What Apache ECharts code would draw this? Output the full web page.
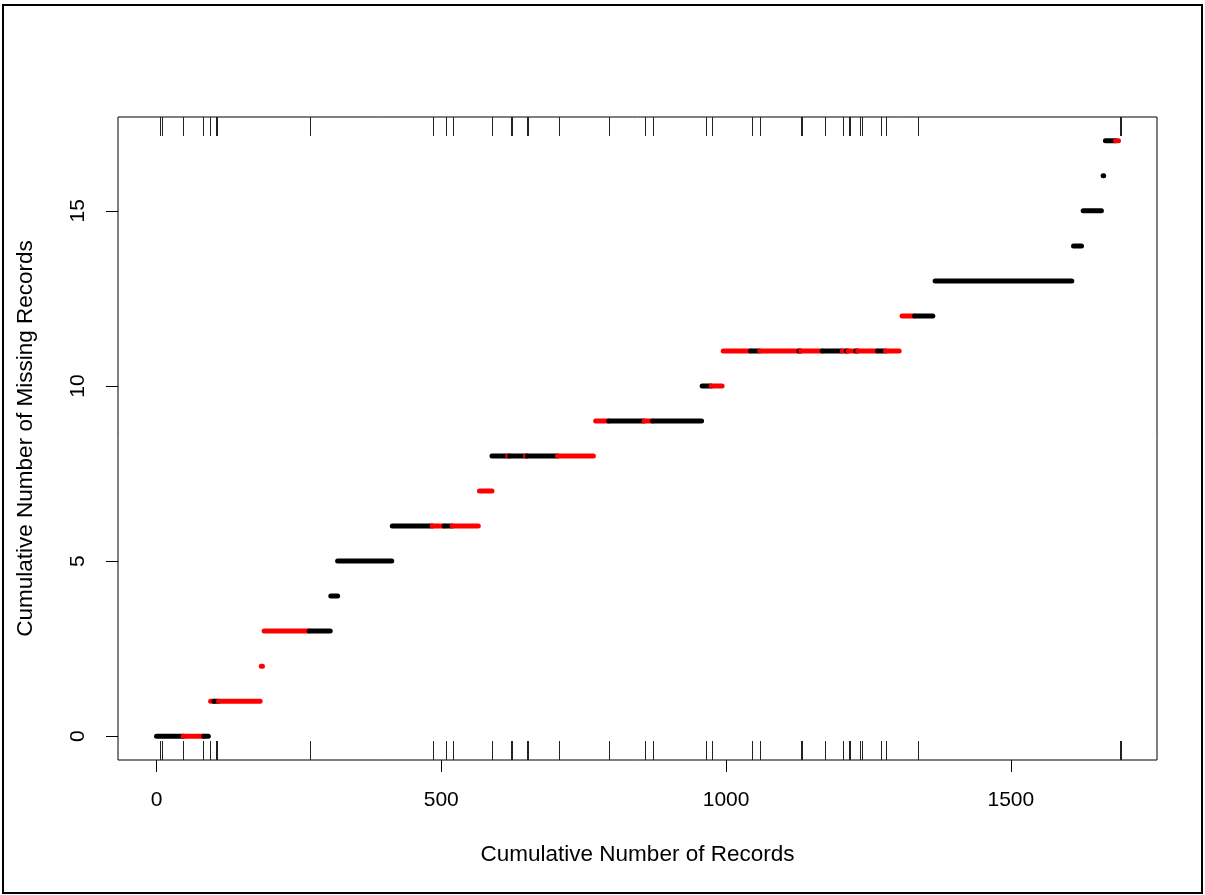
<!DOCTYPE html>
<html>
<head>
<meta charset="utf-8">
<script src="https://cdn.jsdelivr.net/npm/echarts@6/dist/echarts.min.js"></script>
<style>
  html, body { margin: 0; padding: 0; background: #fff; }
  #chart { width: 1205px; height: 895px; }
</style>
</head>
<body>
<div id="chart"></div>
<script>
// runs of consecutive records: [firstRecord, lastRecord, cumulativeMissing, flagged (0 = no, 1 = yes)]
const runs = [
  [0, 47, 0, 0], [47, 83, 0, 1], [83, 91, 0, 0],
  [95, 101, 1, 1], [101, 109, 1, 0], [109, 182, 1, 1],
  [184, 186, 2, 1],
  [189, 268, 3, 1], [268, 305, 3, 0],
  [306, 318, 4, 0],
  [318, 413, 5, 0],
  [414, 484, 6, 0], [484, 505, 6, 1], [505, 519, 6, 0], [519, 565, 6, 1],
  [567, 589, 7, 1],
  [589, 617, 8, 0], [617, 620, 8, 1], [620, 648, 8, 0], [648, 651, 8, 1], [651, 704, 8, 0], [704, 767, 8, 1],
  [771, 794, 9, 1], [794, 856, 9, 0], [856, 871, 9, 1], [871, 957, 9, 0],
  [958, 974, 10, 0], [974, 993, 10, 1],
  [995, 1043, 11, 1], [1043, 1059, 11, 0], [1059, 1128, 11, 1], [1128, 1131, 11, 0],
  [1131, 1169, 11, 1], [1169, 1204, 11, 0], [1204, 1211, 11, 1], [1211, 1214, 11, 0],
  [1214, 1228, 11, 1], [1228, 1231, 11, 0], [1231, 1266, 11, 1], [1266, 1280, 11, 0], [1280, 1304, 11, 1],
  [1309, 1331, 12, 1], [1331, 1363, 12, 0],
  [1367, 1607, 13, 0],
  [1610, 1624, 14, 0],
  [1627, 1659, 15, 0],
  [1662, 1663, 16, 0],
  [1666, 1684, 17, 0], [1684, 1689, 17, 1]
];

// rug marks along top and bottom
const rugX = [
  7, 9, 46, 81, 94, 105, 107, 270, 485, 508, 520, 589, 622, 624, 651, 653, 707, 794,
  858, 872, 964, 975, 1045, 1059, 1131, 1133, 1173, 1206, 1216, 1218, 1236, 1238,
  1272, 1281, 1337, 1691, 1693
];

const xTicks = [0, 500, 1000, 1500];
const yTicks = [0, 5, 10, 15];

const font = '"Liberation Sans", Arial, sans-serif';
const runColors = ['#000000', '#ff0000'];

const chart = echarts.init(document.getElementById('chart'));

const option = {
  animation: false,
  backgroundColor: '#fff',
  graphic: [{
    type: 'rect',
    shape: { x: 3, y: 5, width: 1199, height: 888 },
    style: { fill: 'none', stroke: '#000', lineWidth: 2 },
    silent: true
  }],
  grid: {
    left: 118, top: 117, width: 1039, height: 643,
    show: true, borderColor: '#000', borderWidth: 1, backgroundColor: 'transparent'
  },
  xAxis: {
    type: 'value',
    min: -67.6, max: 1756.6,
    name: 'Cumulative Number of Records',
    nameLocation: 'middle',
    nameGap: 83,
    nameTextStyle: { fontFamily: font, fontSize: 22.5, color: '#000' },
    axisLine: { show: false, onZero: false },
    splitLine: { show: false },
    axisTick: { show: true, length: 12, customValues: xTicks, lineStyle: { color: '#000' } },
    axisLabel: {
      customValues: xTicks, margin: 30, fontFamily: font, fontSize: 21, color: '#000',
      formatter: v => String(v)
    }
  },
  yAxis: {
    type: 'value',
    min: -0.68, max: 17.68,
    name: 'Cumulative Number of Missing Records',
    nameLocation: 'middle',
    nameGap: 81,
    nameRotate: 90,
    nameTextStyle: { fontFamily: font, fontSize: 22.5, color: '#000' },
    axisLine: { show: false, onZero: false },
    splitLine: { show: false },
    axisTick: { show: true, length: 12, customValues: yTicks, lineStyle: { color: '#000' } },
    axisLabel: {
      customValues: yTicks, rotate: 90, margin: 29, fontFamily: font, fontSize: 21, color: '#000',
      formatter: v => String(v)
    }
  },
  series: [
    {
      type: 'custom',
      name: 'runs',
      data: runs,
      encode: { x: [0, 1], y: 2 },
      renderItem: function (params, api) {
        const p0 = api.coord([api.value(0), api.value(2)]);
        const p1 = api.coord([api.value(1), api.value(2)]);
        return {
          type: 'line',
          shape: { x1: p0[0], y1: p0[1], x2: p1[0], y2: p1[1] },
          style: { stroke: runColors[api.value(3)], lineWidth: 5, lineCap: 'round' }
        };
      }
    },
    {
      type: 'custom',
      name: 'rug',
      data: rugX.map(v => [v]),
      encode: { x: 0 },
      renderItem: function (params, api) {
        const cs = params.coordSys;
        const px = Math.round(api.coord([api.value(0), 0])[0]) + 0.5;
        const len = 19;
        const st = { stroke: '#222', lineWidth: 1 };
        return {
          type: 'group',
          children: [
            { type: 'line', shape: { x1: px, y1: cs.y, x2: px, y2: cs.y + len }, style: st },
            { type: 'line', shape: { x1: px, y1: cs.y + cs.height - len, x2: px, y2: cs.y + cs.height }, style: st }
          ]
        };
      }
    }
  ]
};

chart.setOption(option);
</script>
</body>
</html>
